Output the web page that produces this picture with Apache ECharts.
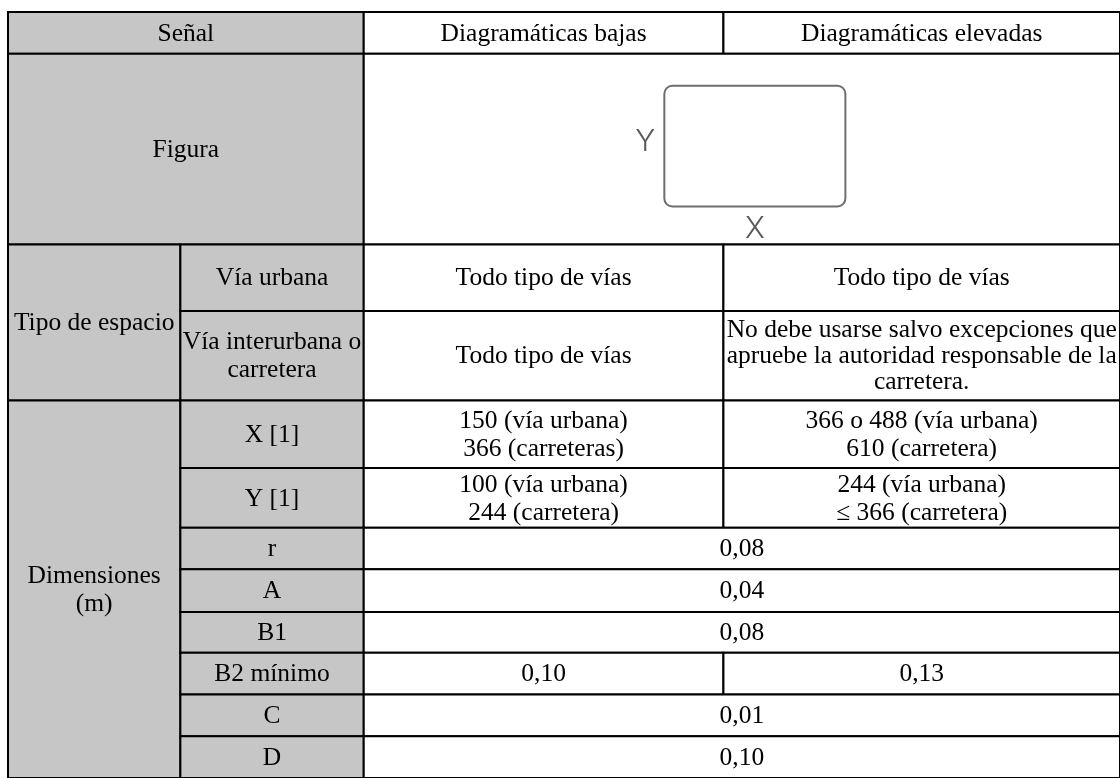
<!DOCTYPE html>
<html>
<head>
<meta charset="utf-8">
<script src="https://cdn.jsdelivr.net/npm/echarts@6/dist/echarts.min.js"></script>
<style>html,body{margin:0;padding:0;background:#fff}#main{width:1120px;height:778px}</style>
</head>
<body>
<div id="main"></div>
<script>
// ---- table content ----
const headerLabel = 'Señal';
const signalTypes = ['Diagramáticas bajas', 'Diagramáticas elevadas'];
const figureLabel = 'Figura';
const spaceGroup = 'Tipo de espacio';
const spaceTypes = ['Vía urbana', 'Vía interurbana o\ncarretera'];
const spaceLow = ['Todo tipo de vías', 'Todo tipo de vías'];
const spaceHigh = ['Todo tipo de vías', 'No debe usarse salvo excepciones que\napruebe la autoridad responsable de la\ncarretera.'];
const dimGroup = 'Dimensiones\n(m)';
const dimNames = ['X [1]', 'Y [1]', 'r', 'A', 'B1', 'B2 mínimo', 'C', 'D'];
const dimLow = ['150 (vía urbana)\n366 (carreteras)', '100 (vía urbana)\n244 (carretera)', '0,08', '0,04', '0,08', '0,10', '0,01', '0,10'];
const dimHigh = ['366 o 488 (vía urbana)\n610 (carretera)', '244 (vía urbana)\n≤ 366 (carretera)', '0,08', '0,04', '0,08', '0,13', '0,01', '0,10'];
const figureAxes = ['X', 'Y'];
const figureSize = [150, 100];

// ---- layout (not data) ----
const colWidths = [173, 184, 361, 398];
const rowHeights = [42, 192, 67, 90, 68, 60, 42, 43, 41, 42, 42, 42];
const colEdges = [0]; colWidths.forEach(w => colEdges.push(colEdges[colEdges.length - 1] + w));
const rowEdges = [0]; rowHeights.forEach(h => rowEdges.push(rowEdges[rowEdges.length - 1] + h));
const GREY = '#c6c6c6';
const FONT = '25.5px "Liberation Serif", "Times New Roman", serif';

// build cells
const cells = [];
function cell(c0, c1, r0, r1, grey, text) {
  cells.push({ value: [colEdges[c0], colEdges[c1], rowEdges[r0], rowEdges[r1], grey ? 1 : 0], text: text });
}
cell(0, 2, 0, 1, true, headerLabel);
cell(2, 3, 0, 1, false, signalTypes[0]);
cell(3, 4, 0, 1, false, signalTypes[1]);
cell(0, 2, 1, 2, true, figureLabel);
cell(2, 4, 1, 2, false, '');
cell(0, 1, 2, 4, true, spaceGroup);
spaceTypes.forEach((s, i) => {
  cell(1, 2, 2 + i, 3 + i, true, s);
  cell(2, 3, 2 + i, 3 + i, false, spaceLow[i]);
  cell(3, 4, 2 + i, 3 + i, false, spaceHigh[i]);
});
cell(0, 1, 4, 4 + dimNames.length, true, dimGroup);
dimNames.forEach((d, i) => {
  const r = 4 + i;
  cell(1, 2, r, r + 1, true, d);
  if (i >= 2 && dimLow[i] === dimHigh[i]) {
    cell(2, 4, r, r + 1, false, dimLow[i]);
  } else {
    cell(2, 3, r, r + 1, false, dimLow[i]);
    cell(3, 4, r, r + 1, false, dimHigh[i]);
  }
});

const chart = echarts.init(document.getElementById('main'), null, { renderer: 'canvas' });
const totalW = colEdges[colEdges.length - 1];
const totalH = rowEdges[rowEdges.length - 1];

function renderCell(params, api) {
  const p0 = api.coord([api.value(0), api.value(2)]);
  const p1 = api.coord([api.value(1), api.value(3)]);
  const grey = api.value(4) === 1;
  const txt = cells[params.dataIndex].text;
  const cx = (p0[0] + p1[0]) / 2, cy = (p0[1] + p1[1]) / 2;
  const lines = txt.split('\n').length;
  return {
    type: 'group',
    children: [
      { type: 'rect', shape: { x: p0[0], y: p0[1], width: p1[0] - p0[0], height: p1[1] - p0[1] },
        style: { fill: grey ? GREY : '#fff', stroke: '#000', lineWidth: 2 } },
      { type: 'text', x: cx, y: cy + 1,
        style: { text: txt, font: FONT, fill: '#000', align: 'center', verticalAlign: 'middle', lineHeight: lines >= 3 ? 26 : 28 } }
    ]
  };
}

// figure drawn in the merged figure cell
const figScale = 1.207;
function renderFigure(params, api) {
  const w = api.value(0) * figScale, h = api.value(1) * figScale;
  const cellL = api.coord([colEdges[2], rowEdges[1]]);
  const cellR = api.coord([colEdges[4], rowEdges[2]]);
  const cx = (cellL[0] + cellR[0]) / 2 + 13;
  const cy = (cellL[1] + cellR[1]) / 2 - 3;
  const x0 = cx - w / 2, y0 = cy - h / 2;
  const lblStyle = { font: '300 30px Inter, "Open Sans", "DejaVu Sans", sans-serif', fill: '#5a5a5a', align: 'center', verticalAlign: 'middle' };
  return {
    type: 'group',
    children: [
      { type: 'rect', shape: { x: x0, y: y0, width: w, height: h, r: 8 },
        style: { fill: '#fff', stroke: '#6e6e6e', lineWidth: 2 } },
      { type: 'text', x: x0 - 19, y: cy - 4, style: Object.assign({ text: figureAxes[1] }, lblStyle) },
      { type: 'text', x: cx, y: y0 + h + 23, style: Object.assign({ text: figureAxes[0] }, lblStyle) }
    ]
  };
}

chart.setOption({
  animation: false,
  grid: { left: 8, top: 12, width: totalW, height: totalH, containLabel: false },
  xAxis: { type: 'value', min: 0, max: totalW, show: false },
  yAxis: { type: 'value', min: 0, max: totalH, inverse: true, show: false },
  series: [
    { type: 'custom', clip: false, renderItem: renderCell, data: cells.map(c => c.value), z: 1 },
    { type: 'custom', clip: false, renderItem: renderFigure, data: [figureSize], z: 2 }
  ]
});
</script>
</body>
</html>
